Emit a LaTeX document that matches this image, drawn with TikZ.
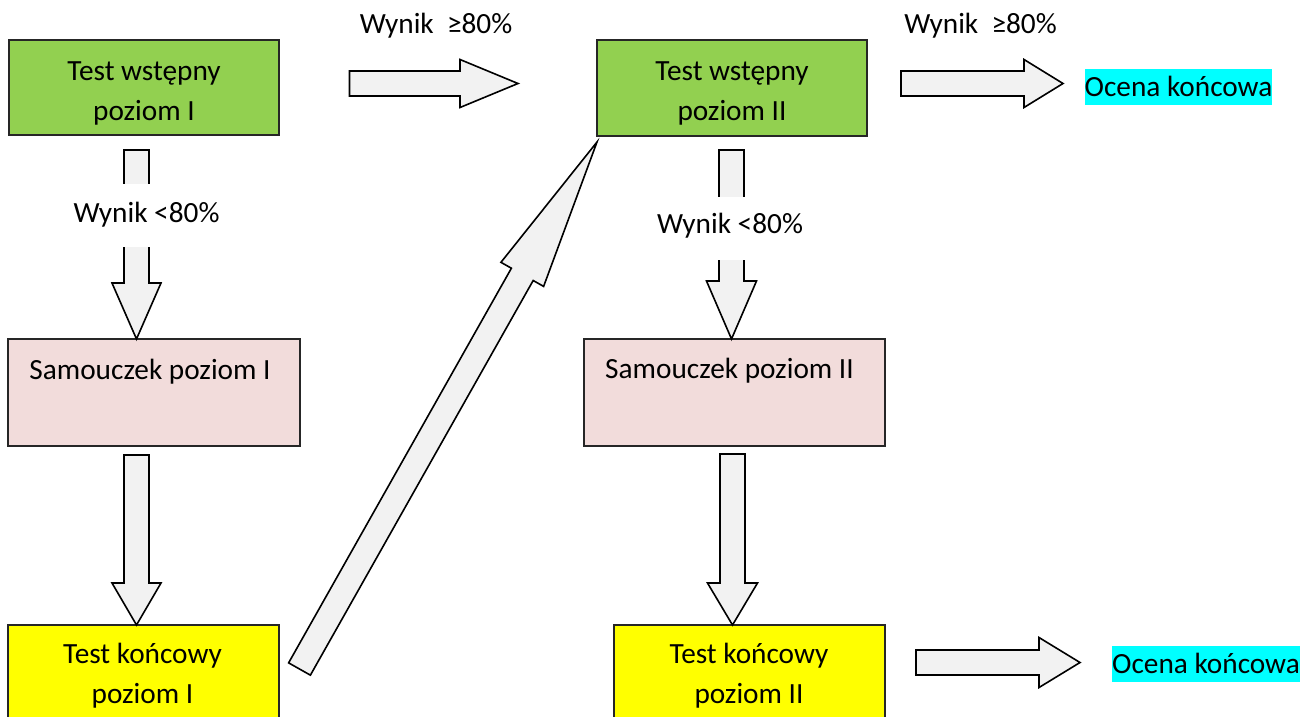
\documentclass[tikz,border=0pt]{standalone}
\usepackage{fontspec}
\setmainfont{Carlito}
\usetikzlibrary{calc}
\definecolor{boxgreen}{HTML}{92D050}
\definecolor{boxpink}{HTML}{F2DCDB}
\definecolor{boxyellow}{HTML}{FFFF00}
\definecolor{hlcyan}{HTML}{00FFFF}
\definecolor{arrowgray}{HTML}{F2F2F2}
\newcommand\bigfont{\fontsize{29.3}{40}\selectfont}
\newcommand\blockarrow[5]{%
  \coordinate (bah) at ($(#2)!#5!(#1)$);
  \draw[barrow] ($(#1)!#3!90:(#2)$) -- ($(bah)!#3!90:(#2)$) -- ($(bah)!#4!90:(#2)$)
    -- (#2) -- ($(bah)!#4!-90:(#2)$) -- ($(bah)!#3!-90:(#2)$) -- ($(#1)!#3!-90:(#2)$) -- cycle;}
\begin{document}
\begin{tikzpicture}[x=1pt,y=-1pt,
  box/.style={draw=black!85,line width=1.8pt,inner sep=0pt,outer sep=0pt,anchor=north west},
  txt/.style={font=\bigfont,inner sep=0pt,align=center,anchor=north},
  barrow/.style={draw=black,line width=1.6pt,fill=arrowgray,line join=miter},
  lab/.style={font=\bigfont,inner sep=0pt,anchor=base},
  cond/.style={font=\bigfont,inner xsep=4pt,inner ysep=0pt,fill=white,anchor=base},
  result/.style={font=\bigfont,fill=hlcyan,inner sep=0pt,text height=27pt,text depth=9pt,anchor=base}]
\useasboundingbox (0,0) rectangle (1303,716);
\fill[white] (0,0) rectangle (1303,716);

% boxes
\node[box,fill=boxgreen,minimum width=270pt,minimum height=95pt] (b1) at (9,40) {};
\node[box,fill=boxpink,minimum width=292pt,minimum height=107pt] (b2) at (8,339) {};
\node[box,fill=boxyellow,minimum width=271pt,minimum height=120pt] (b3) at (8,625) {};
\node[box,fill=boxgreen,minimum width=270pt,minimum height=96pt] (b4) at (597,40) {};
\node[box,fill=boxpink,minimum width=301pt,minimum height=107pt] (b5) at (584,339) {};
\node[box,fill=boxyellow,minimum width=271pt,minimum height=120pt] (b6) at (614,625) {};

% box texts
\node[txt] (t1) at (144,52) {\strut Test wstępny\\poziom I};
\node[txt] (t2) at (150,351) {\strut Samouczek poziom I};
\node[txt] (t3) at (142.5,635) {\strut Test końcowy\\poziom I};
\node[txt] (t4) at (732,52) {\strut Test wstępny\\poziom II};
\node[txt] (t5) at (729.5,350) {\strut Samouczek poziom II};
\node[txt] (t6) at (749,635) {\strut Test końcowy\\poziom II};

% results
\node[result] (r1) at (1178.5,96) {Ocena końcowa};
\node[result] (r2) at (1206,673) {Ocena końcowa};

% arrow end points
\coordinate (a1s) at (136.5,150);  \coordinate (a1e) at (a1s |- b2.north);
\coordinate (a2s) at (136.5,455);  \coordinate (a2e) at (a2s |- b3.north);
\coordinate (a3s) at (731.5,150);  \coordinate (a3e) at (a3s |- b5.north);
\coordinate (a4s) at (732.5,454);  \coordinate (a4e) at (a4s |- b6.north);
\coordinate (h1s) at (349.5,83.5); \coordinate (h1e) at (518,83.5);
\coordinate (h2s) at (901,83.5);   \coordinate (h2e) at (1063,83.5);
\coordinate (h3s) at (916,662.5);  \coordinate (h3e) at (1080,662.5);
\coordinate (ds) at (299.5,669);   \coordinate (de) at ($(b4.south west)+(0,6)$);

\blockarrow{a1s}{a1e}{12.5pt}{24.5pt}{56pt}
\blockarrow{a2s}{a2e}{12.5pt}{24.5pt}{42pt}
\blockarrow{a3s}{a3e}{12.5pt}{25pt}{58pt}
\blockarrow{a4s}{a4e}{12.5pt}{25pt}{42pt}
\blockarrow{h1s}{h1e}{12.5pt}{24pt}{58pt}
\blockarrow{h2s}{h2e}{12.5pt}{24pt}{39pt}
\blockarrow{h3s}{h3e}{12.5pt}{25pt}{41pt}
\blockarrow{ds}{de}{12.5pt}{24.5pt}{152pt}

% labels
\node[lab] (w1) at (436,33) {Wynik\ \ ≥80\%};
\node[lab] (w2) at (980.5,33) {Wynik\ \ ≥80\%};
\node[cond,text height=38pt,text depth=25pt] (c1) at (146.5,222) {Wynik <80\%};
\node[cond,text height=36pt,text depth=27pt] (c2) at (730,233) {Wynik <80\%};
\end{tikzpicture}
\end{document}
